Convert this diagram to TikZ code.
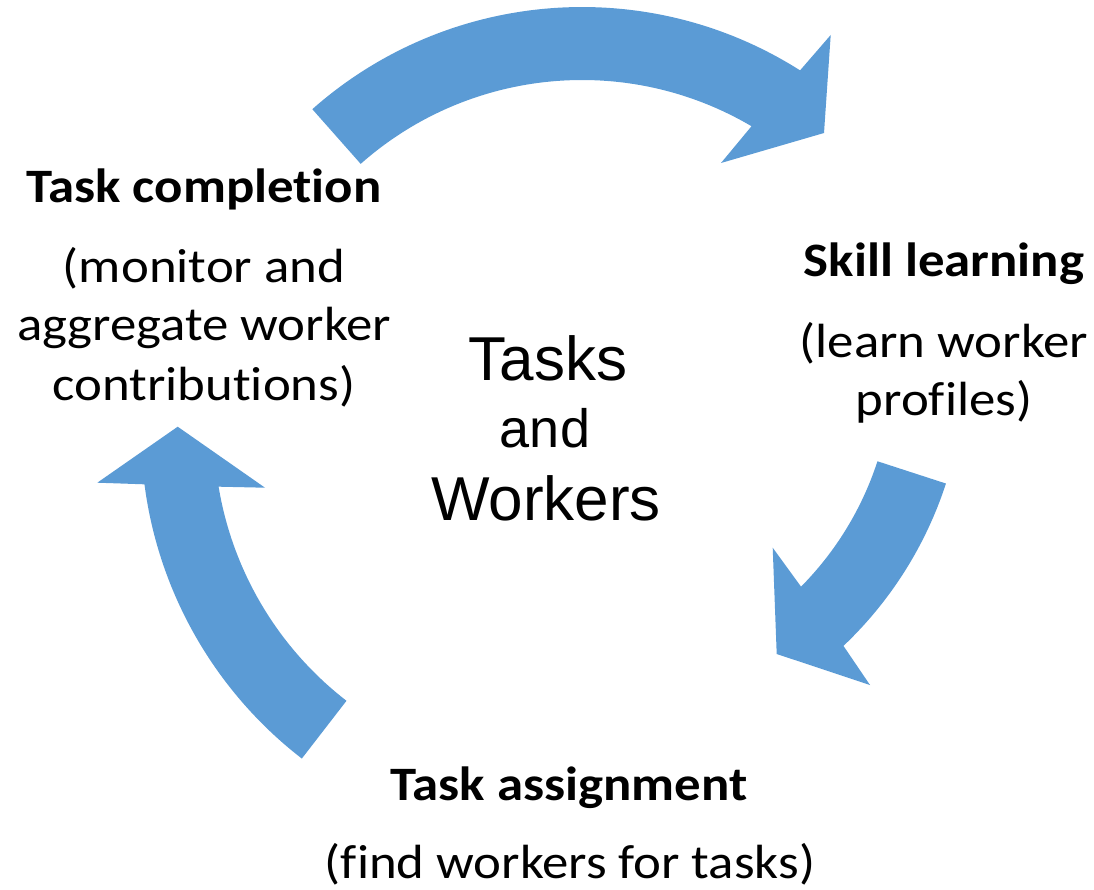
\documentclass[tikz,border=0pt]{standalone}
\usepackage{fontspec}
\setmainfont{Carlito}[FakeStretch=1.1, Ligatures=NoCommon]
\newfontfamily\arialfont{Liberation Sans}
\definecolor{arrowblue}{HTML}{5B9BD5}
\tikzset{
  cyclearrow/.style={fill=arrowblue, draw=none},
  headtext/.style={anchor=base, inner sep=0pt, font=\fontsize{48}{57}\selectfont\bfseries},
  bodytext/.style={anchor=base, inner sep=0pt, font=\fontsize{48}{57}\selectfont},
  centertext/.style={anchor=base, inner sep=0pt, font=\arialfont\fontsize{62}{70}\selectfont},
  centersmall/.style={anchor=base, inner sep=0pt, font=\arialfont\fontsize{54}{60}\selectfont}
}
\begin{document}
\begin{tikzpicture}[x=1pt,y=-1pt]
\useasboundingbox (0,0) rectangle (1094,890);
% top arrow: Task completion -> Skill learning
\fill[cyclearrow] ([shift={(582,414)}]-131.5:407)
  arc[start angle=-131.5, end angle=-57.6, radius=407]
  -- (830.7,35) -- (824,133) -- (721,163)
  -- ([shift={(582,414)}]-59.5:334)
  arc[start angle=-59.5, end angle=-131.5, radius=334] -- cycle;
% right arrow: Skill learning -> Task assignment
\fill[cyclearrow] ([shift={(575,363)}]18:390)
  arc[start angle=18, end angle=46.5, radius=390]
  -- (870,685) -- (776.7,654) -- (772.7,547.7)
  -- ([shift={(575,363)}]44.7:318)
  arc[start angle=44.7, end angle=18, radius=318] -- cycle;
% left arrow: Task assignment -> Task completion
\fill[cyclearrow] ([shift={(555,431)}]127.7:414)
  arc[start angle=127.7, end angle=172.6, radius=414]
  -- (97.3,482.7) -- (177.7,426.7) -- (265,487.7)
  -- ([shift={(555,431)}]170.6:341)
  arc[start angle=170.6, end angle=127.7, radius=341] -- cycle;
% left text
\node[headtext] (tc) at (204,203) {Task completion};
\node[bodytext] (tc1) at (204,283) {(monitor and};
\node[bodytext] (tc2) at (204,341) {aggregate worker};
\node[bodytext] (tc3) at (204,400) {contributions)};
% right text
\node[headtext] (sl) at (944,277) {Skill learning};
\node[bodytext] (sl1) at (944,357) {(learn worker};
\node[bodytext] (sl2) at (944,415) {profiles)};
% bottom text
\node[headtext] (ta) at (569,800) {Task assignment};
\node[bodytext] (ta1) at (570,878) {(find workers for tasks)};
% centre text
\node[centertext] (c1) at (548,380) {Tasks};
\node[centersmall] (c2) at (545,447) {and};
\node[centertext] (c3) at (546,520) {Workers};
\end{tikzpicture}
\end{document}
